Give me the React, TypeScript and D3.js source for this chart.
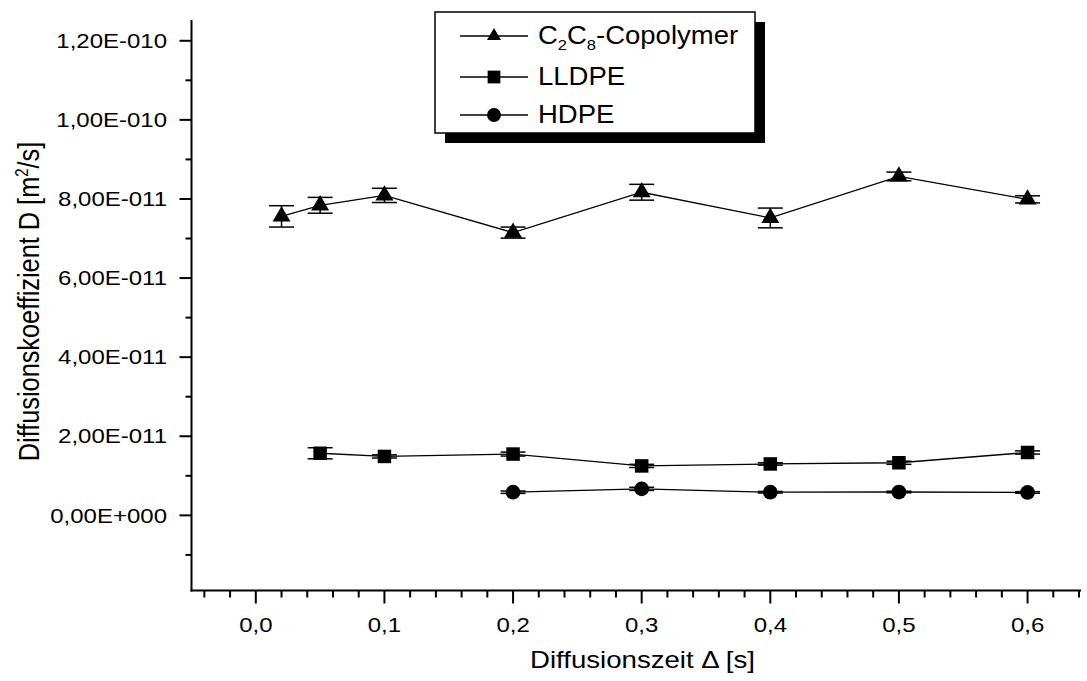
import React from "react";
import * as d3 from "d3";

const copolymerX = [0.02, 0.05, 0.1, 0.2, 0.3, 0.4, 0.5, 0.6];
const copolymerY = [7.56e-11, 7.84e-11, 8.09e-11, 7.15e-11, 8.17e-11, 7.52e-11, 8.57e-11, 7.99e-11];
const copolymerErr = [0.27e-11, 0.2e-11, 0.18e-11, 0.14e-11, 0.2e-11, 0.25e-11, 0.11e-11, 0.09e-11];

const lldpeX = [0.05, 0.1, 0.2, 0.3, 0.4, 0.5, 0.6];
const lldpeY = [1.57e-11, 1.49e-11, 1.55e-11, 1.25e-11, 1.3e-11, 1.33e-11, 1.59e-11];
const lldpeErr = [0.14e-11, 0.04e-11, 0.05e-11, 0.04e-11, 0.03e-11, 0.04e-11, 0.04e-11];

const hdpeX = [0.2, 0.3, 0.4, 0.5, 0.6];
const hdpeY = [0.585e-11, 0.67e-11, 0.585e-11, 0.59e-11, 0.58e-11];
const hdpeErr = [0.03e-11, 0.04e-11, 0.02e-11, 0.02e-11, 0.02e-11];

const xMajorTicks = [0, 0.1, 0.2, 0.3, 0.4, 0.5, 0.6];
const xTickLabels = ["0,0", "0,1", "0,2", "0,3", "0,4", "0,5", "0,6"];
const yMajorTicks = [0, 2e-11, 4e-11, 6e-11, 8e-11, 1e-10, 1.2e-10];
const yTickLabels = ["0,00E+000", "2,00E-011", "4,00E-011", "6,00E-011", "8,00E-011", "1,00E-010", "1,20E-010"];

const FONT = "'Liberation Sans', Arial, Helvetica, sans-serif";
const SX = 1.2;

type Shape = "triangle" | "square" | "circle";

function Marker({ x, y, shape, size }: { x: number; y: number; shape: Shape; size: number }) {
  if (shape === "triangle") {
    const hw = size * 0.5;
    const h = size * 0.85;
    return (
      <path
        d={`M${x},${y - (2 * h) / 3} L${x + hw},${y + h / 3} L${x - hw},${y + h / 3} Z`}
        fill="#000"
      />
    );
  }
  if (shape === "square") {
    const s = size * 0.75;
    return <rect x={x - s / 2} y={y - s / 2} width={s} height={s} fill="#000" />;
  }
  const r = size * 0.41;
  return <circle cx={x} cy={y} r={r} fill="#000" />;
}

export default function App() {
  const W = 1087;
  const H = 681;
  const xScale = d3.scaleLinear().domain([-0.05, 0.64]).range([191.5, 1079]);
  const yScale = d3.scaleLinear().domain([-1.9e-11, 1.25e-10]).range([590.5, 21]);

  const xMinor = d3.range(-0.04, 0.641, 0.02).filter(
    (v) => !xMajorTicks.some((m) => Math.abs(m - v) < 1e-6)
  );
  const yMinor = d3.range(-1e-11, 1.21e-10, 2e-11);

  const line = d3
    .line<[number, number]>()
    .x((d) => xScale(d[0]))
    .y((d) => yScale(d[1]));

  const series = [
    { xs: copolymerX, ys: copolymerY, es: copolymerErr, shape: "triangle" as Shape },
    { xs: lldpeX, ys: lldpeY, es: lldpeErr, shape: "square" as Shape },
    { xs: hdpeX, ys: hdpeY, es: hdpeErr, shape: "circle" as Shape },
  ];

  const axisX = xScale(-0.05);
  const axisY = yScale(-1.9e-11);

  return (
    <svg
      width={W}
      height={H}
      style={{ position: "absolute", left: 0, top: 0, background: "#fff" }}
      fontFamily={FONT}
    >
      <rect x={0} y={0} width={W} height={H} fill="#fff" />

      {/* data lines */}
      {series.map((s, i) => (
        <path
          key={"l" + i}
          d={line(s.xs.map((x, j) => [x, s.ys[j]] as [number, number])) || ""}
          fill="none"
          stroke="#000"
          strokeWidth={1.3}
        />
      ))}

      {/* error bars */}
      {series.map((s, i) =>
        s.xs.map((x, j) => {
          const cx = xScale(x);
          const y1 = yScale(s.ys[j] + s.es[j]);
          const y2 = yScale(s.ys[j] - s.es[j]);
          return (
            <g key={`e${i}-${j}`} stroke="#000" strokeWidth={1.5}>
              <line x1={cx} x2={cx} y1={y1} y2={y2} />
              <line x1={cx - 12.5} x2={cx + 12.5} y1={y1} y2={y1} />
              <line x1={cx - 12.5} x2={cx + 12.5} y1={y2} y2={y2} />
            </g>
          );
        })
      )}

      {/* markers */}
      {series.map((s, i) =>
        s.xs.map((x, j) => (
          <Marker key={`m${i}-${j}`} x={xScale(x)} y={yScale(s.ys[j])} shape={s.shape} size={18} />
        ))
      )}

      {/* axes */}
      <line x1={axisX} x2={axisX} y1={20} y2={axisY + 1} stroke="#000" strokeWidth={2} />
      <line x1={axisX - 1} x2={1081} y1={axisY} y2={axisY} stroke="#000" strokeWidth={2} />

      {xMajorTicks.map((v, i) => (
        <g key={"xt" + i}>
          <line x1={xScale(v)} x2={xScale(v)} y1={axisY} y2={axisY + 13} stroke="#000" strokeWidth={2} />
          <g transform={`translate(${xScale(v)},632) scale(${SX},1)`}>
            <text textAnchor="middle" fontSize={20} fill="#000">
              {xTickLabels[i]}
            </text>
          </g>
        </g>
      ))}
      {xMinor.map((v, i) => (
        <line key={"xm" + i} x1={xScale(v)} x2={xScale(v)} y1={axisY} y2={axisY + 7} stroke="#000" strokeWidth={2} />
      ))}

      {yMajorTicks.map((v, i) => (
        <g key={"yt" + i}>
          <line x1={axisX - 12} x2={axisX} y1={yScale(v)} y2={yScale(v)} stroke="#000" strokeWidth={2} />
          <g transform={`translate(167,${yScale(v) + 7.2}) scale(${SX},1)`}>
            <text textAnchor="end" fontSize={20} fill="#000">
              {yTickLabels[i]}
            </text>
          </g>
        </g>
      ))}
      {yMinor.map((v, i) => (
        <line key={"ym" + i} x1={axisX - 6} x2={axisX} y1={yScale(v)} y2={yScale(v)} stroke="#000" strokeWidth={2} />
      ))}

      {/* axis titles */}
      <g transform={`translate(642.5,668) scale(${SX},1)`}>
        <text textAnchor="middle" fontSize={23} fill="#000">
          Diffusionszeit Δ [s]
        </text>
      </g>
      <g transform={`translate(39,301.5) scale(${SX},1) rotate(-90)`}>
        <text textAnchor="middle" fontSize={25.3} fill="#000">
          Diffusionskoeffizient D [m
          <tspan dy={-9} fontSize={15}>
            2
          </tspan>
          <tspan dy={9}>/s]</tspan>
        </text>
      </g>

      {/* legend */}
      <rect x={445} y={22} width={320} height={121} fill="#000" />
      <rect x={435} y={12} width={320} height={121} fill="#fff" stroke="#000" strokeWidth={1.5} />
      {[
        { shape: "triangle" as Shape, ly: 36, ty: 44 },
        { shape: "square" as Shape, ly: 77, ty: 85 },
        { shape: "circle" as Shape, ly: 115, ty: 123 },
      ].map((e, i) => (
        <g key={"lg" + i}>
          <line x1={460} x2={528} y1={e.ly} y2={e.ly} stroke="#000" strokeWidth={1.3} />
          <Marker x={494} y={e.ly} shape={e.shape} size={e.shape === "triangle" ? 14 : 17} />
        </g>
      ))}
      <g transform={`translate(538,44) scale(1.1,1)`}>
        <text fontSize={25} fill="#000">
          C
          <tspan dy={6} fontSize={15}>
            2
          </tspan>
          <tspan dy={-6}>C</tspan>
          <tspan dy={6} fontSize={15}>
            8
          </tspan>
          <tspan dy={-6}>-Copolymer</tspan>
        </text>
      </g>
      <g transform={`translate(538,85) scale(1.1,1)`}>
        <text fontSize={25} fill="#000">
          LLDPE
        </text>
      </g>
      <g transform={`translate(538,123) scale(1.1,1)`}>
        <text fontSize={25} fill="#000">
          HDPE
        </text>
      </g>
    </svg>
  );
}
